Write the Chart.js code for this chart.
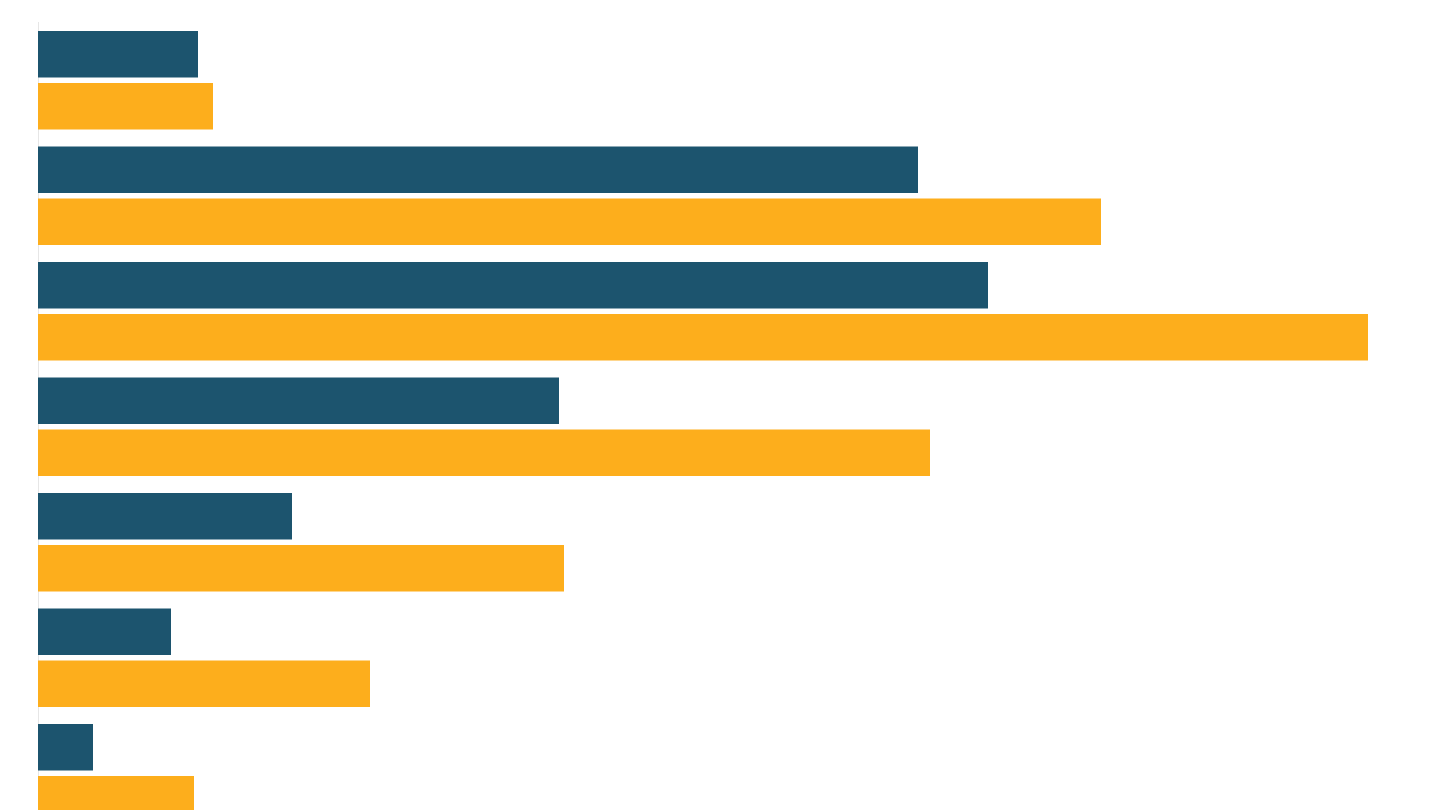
<!DOCTYPE html>
<html>
<head>
<meta charset="utf-8">
<script src="https://cdn.jsdelivr.net/npm/chart.js@4"></script>
<style>
html,body{margin:0;padding:0;background:#fff;overflow:hidden;}
#wrap{position:absolute;left:0;top:0;width:1440px;height:831px;}
</style>
</head>
<body>
<div id="wrap"><canvas id="c"></canvas></div>
<script>
const categories = ["A","B","C","D","E","F","G"];
const seriesBlue = [160, 880, 950, 521, 254, 133, 55];
const seriesOrange = [175, 1063, 1330, 892, 526, 332, 156];
const xMax = 1380;

new Chart(document.getElementById('c'), {
  type: 'bar',
  data: {
    labels: categories,
    datasets: [
      {data: seriesBlue, backgroundColor: '#1c546e', categoryPercentage: 0.9, barPercentage: 0.894},
      {data: seriesOrange, backgroundColor: '#fdae1c', categoryPercentage: 0.9, barPercentage: 0.894}
    ]
  },
  options: {
    indexAxis: 'y',
    responsive: true,
    maintainAspectRatio: false,
    animation: false,
    layout: {padding: {left: 38, right: 22, top: 22.5, bottom: 0}},
    plugins: {legend: {display: false}, tooltip: {enabled: false}},
    scales: {
      x: {display: false, min: 0, max: xMax},
      y: {
        display: true,
        ticks: {display: false},
        grid: {display: false, drawTicks: false},
        border: {display: true, color: '#e6e6e6', width: 1}
      }
    }
  }
});
</script>
</body>
</html>
